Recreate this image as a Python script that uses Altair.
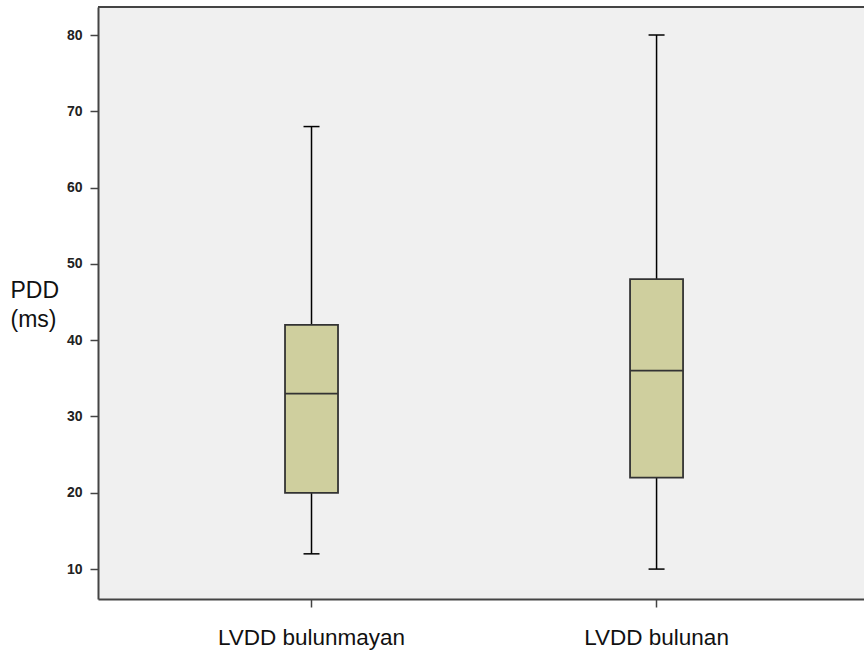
import altair as alt
import pandas as pd

# Box-plot summary of PDD (ms) for the two LVDD groups
groups = ["LVDD bulunmayan", "LVDD bulunan"]
whisker_low = [12, 10]
q1 = [20, 22]
median = [33, 36]
q3 = [42, 48]
whisker_high = [68, 80]

y_ticks = [10, 20, 30, 40, 50, 60, 70, 80]
y_min, y_max = 6.08, 83.67

df = pd.DataFrame({
    "group": groups,
    "lo": whisker_low,
    "q1": q1,
    "med": median,
    "q3": q3,
    "hi": whisker_high,
})

FONT = "Liberation Sans"
BOX_FILL = "#cfcf9e"
DARK = "#333333"

x_enc = alt.X(
    "group:N",
    sort=groups,
    scale=alt.Scale(paddingInner=0, paddingOuter=0.11, align=0.54),
    axis=alt.Axis(
        title=None,
        labelAngle=0,
        labelFont=FONT,
        labelFontSize=22.5,
        labelColor="#111111",
        labelPadding=19,
        labelLimit=0,
        tickSize=8,
        tickColor="#444444",
        tickWidth=1.5,
        domainColor="#444444",
        domainWidth=2,
        grid=False,
    ),
)

y_scale = alt.Scale(domain=[y_min, y_max], nice=False, zero=False)
y_axis = alt.Axis(
    values=y_ticks,
    title=["PDD", "(ms)"],
    titleAngle=0,
    titleAlign="left",
    titleBaseline="top",
    titleX=-88,
    titleY=272,
    titleFont=FONT,
    titleFontSize=23,
    titleFontWeight="normal",
    titleLineHeight=29,
    titleColor="#111111",
    labelFont=FONT,
    labelFontSize=14,
    labelFontWeight="bold",
    labelColor="#222222",
    labelPadding=8,
    tickSize=8,
    tickColor="#444444",
    tickWidth=1.5,
    domainColor="#444444",
    domainWidth=2,
    grid=False,
)

base = alt.Chart(df)

whisker = base.mark_rule(color="black", strokeWidth=1.5, opacity=1).encode(
    x=x_enc,
    y=alt.Y("lo:Q", scale=y_scale, axis=y_axis),
    y2="hi:Q",
)

box = base.mark_bar(
    size=53, fill=BOX_FILL, stroke=DARK, strokeWidth=1.8, opacity=1
).encode(
    x=x_enc,
    y=alt.Y("q1:Q", scale=y_scale),
    y2="q3:Q",
)

med_line = base.mark_tick(size=53, thickness=1.8, color=DARK, opacity=1).encode(
    x=x_enc, y=alt.Y("med:Q", scale=y_scale)
)

cap_low = base.mark_tick(size=16, thickness=1.5, color="black", opacity=1).encode(
    x=x_enc, y=alt.Y("lo:Q", scale=y_scale)
)
cap_high = base.mark_tick(size=16, thickness=1.5, color="black", opacity=1).encode(
    x=x_enc, y=alt.Y("hi:Q", scale=y_scale)
)

# upper frame edge of the plot area
top_edge = alt.Chart().mark_rule(color="#444444", strokeWidth=2).encode(
    y=alt.datum(y_max, scale=y_scale)
)

chart = (
    alt.layer(whisker, box, med_line, cap_low, cap_high, top_edge)
    .properties(
        width=766,
        height=592,
        autosize=alt.AutoSizeParams(type="none"),
        padding={"left": 98, "top": 7, "right": 0, "bottom": 56},
        background="white",
    )
    .configure_view(fill="#f0f0f0", stroke=None)
)

chart.save("out.html", embed_options={"renderer": "svg", "actions": False})
